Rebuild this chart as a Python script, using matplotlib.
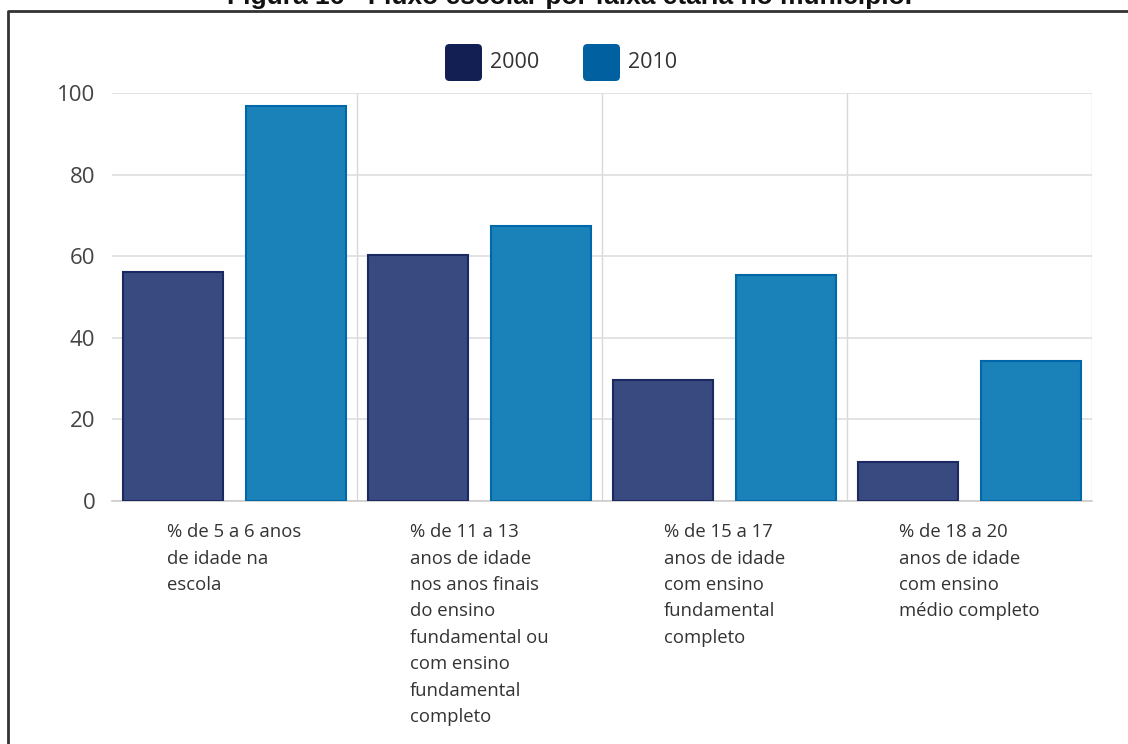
import matplotlib.pyplot as plt
from matplotlib.patches import FancyBboxPatch
from matplotlib.lines import Line2D
import numpy as np

# data
categories = [
    "% de 5 a 6 anos\nde idade na\nescola",
    "% de 11 a 13\nanos de idade\nnos anos finais\ndo ensino\nfundamental ou\ncom ensino\nfundamental\ncompleto",
    "% de 15 a 17\nanos de idade\ncom ensino\nfundamental\ncompleto",
    "% de 18 a 20\nanos de idade\ncom ensino\nmédio completo",
]
values_2000 = [56.1, 60.4, 29.7, 9.6]
values_2010 = [96.8, 67.4, 55.4, 34.3]
series_names = ["2000", "2010"]
title = "Figura 16 - Fluxo escolar por faixa etária no município."

plt.rcParams['font.family'] = ['Open Sans', 'DejaVu Sans']

W, H = 1128, 744
fig = plt.figure(figsize=(W / 100, H / 100), dpi=100)
fig.patch.set_facecolor('white')

ax = fig.add_axes([112 / W, 1 - 501 / H, 980 / W, 408 / H])

x = np.arange(len(categories))
bw = 0.41
ax.bar(x - 0.25, values_2000, bw, color='#384a80', edgecolor='#1b2862',
       linewidth=1.5, zorder=3)
ax.bar(x + 0.25, values_2010, bw, color='#1a82b8', edgecolor='#0067a8',
       linewidth=1.5, zorder=3)

ax.set_xlim(-0.5, len(categories) - 0.5)
ax.set_ylim(0, 100)
ax.set_yticks([0, 20, 40, 60, 80, 100])
ax.yaxis.grid(True, color='#dedede', linewidth=1.2, zorder=0)
for b in np.arange(0.5, len(categories), 1.0):
    ax.axvline(b, color='#d8d8d8', linewidth=1.0, zorder=0)
for s in ['top', 'left', 'right']:
    ax.spines[s].set_visible(False)
ax.spines['bottom'].set_color('#cccccc')
ax.spines['bottom'].set_linewidth(1.2)

ax.tick_params(axis='y', length=0, pad=12, labelsize=16, labelcolor='#444444')
ax.tick_params(axis='x', length=0, pad=16, labelsize=13.3, labelcolor='#333333')
ax.set_xticks(x)
ax.set_xticklabels(categories, va='top', linespacing=1.6)
for t in ax.get_xticklabels():
    t.set_multialignment('left')

# legend drawn as rounded squares at the top centre
leg_colors = ['#131f52', '#0060a0']
leg_x = [445, 583]
for name, c, lx in zip(series_names, leg_colors, leg_x):
    sq = FancyBboxPatch((lx / W, 1 - 81 / H), 37 / W, 37 / H,
                        boxstyle="round,pad=0,rounding_size=0.004",
                        transform=fig.transFigure, facecolor=c,
                        edgecolor='none', mutation_aspect=W / H)
    fig.patches.append(sq)
    fig.text((lx + 45) / W, 1 - 63 / H, name, fontsize=15.5, color='#333333',
             va='center', ha='left')

# cropped figure title and frame
fig.text(570 / W, 1 - 4 / H, title, fontsize=19, fontweight='bold',
         family='Liberation Sans', ha='center', va='baseline', color='#111111')
fig.lines.append(Line2D([8 / W, 8 / W, 1.0], [0.0, 1 - 11 / H, 1 - 11 / H],
                        transform=fig.transFigure, color='#333333',
                        linewidth=2.0))

fig.savefig('out.png', dpi=100)
